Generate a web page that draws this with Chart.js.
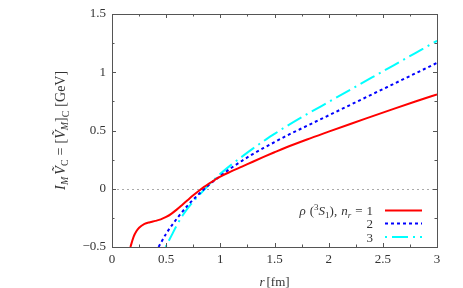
<!DOCTYPE html>
<html><head><meta charset="utf-8">
<script src="https://cdn.jsdelivr.net/npm/chart.js@4"></script>
<style>html,body{margin:0;padding:0;background:#fff}</style>
</head><body>
<canvas id="c" width="463" height="288"></canvas>
<script>
// ---- data ----
const rRed  = [0.17, 0.2, 0.225, 0.25, 0.3, 0.35, 0.4, 0.45, 0.5, 0.55, 0.6, 0.65, 0.7, 0.75, 0.8, 0.85, 0.9, 0.95, 1.0, 1.1, 1.2, 1.3, 1.4, 1.5, 1.6, 1.8, 2.0, 2.2, 2.4, 2.6, 2.8, 3.0];
const vRed  = [-0.5, -0.41, -0.365, -0.335, -0.302, -0.287, -0.276, -0.263, -0.242, -0.213, -0.177, -0.137, -0.096, -0.056, -0.019, 0.016, 0.047, 0.077, 0.105, 0.149, 0.19, 0.232, 0.273, 0.313, 0.352, 0.423, 0.49, 0.556, 0.621, 0.686, 0.749, 0.81];
const rBlue = [0.43, 0.5, 0.6, 0.7, 0.8, 0.9, 1.0, 1.1, 1.2, 1.3, 1.4, 1.5, 1.6, 1.8, 2.0, 2.2, 2.4, 2.6, 2.8, 3.0];
const vBlue = [-0.5, -0.385, -0.255, -0.142, -0.047, 0.038, 0.11, 0.178, 0.24, 0.298, 0.35, 0.4, 0.45, 0.54, 0.63, 0.72, 0.81, 0.9, 0.99, 1.08];
const rCyan = [0.495, 0.55, 0.6, 0.65, 0.7, 0.75, 0.8, 0.9, 1.0, 1.1, 1.2, 1.3, 1.4, 1.5, 1.6, 1.8, 2.0, 2.2, 2.4, 2.6, 2.8, 3.0];
const vCyan = [-0.5, -0.4, -0.31, -0.232, -0.166, -0.11, -0.06, 0.04, 0.128, 0.205, 0.276, 0.344, 0.41, 0.471, 0.53, 0.64, 0.745, 0.85, 0.955, 1.06, 1.165, 1.27];
const xTicks = [0, 0.5, 1, 1.5, 2, 2.5, 3];
const yTicks = [-0.5, 0, 0.5, 1, 1.5];
const legendLabels = ['1', '2', '3'];

const SERIF = '"Liberation Serif", "DejaVu Serif", serif';
const TXT = '#333';
const colors = ['#ff0000', '#0000ff', '#00ffff'];
const dashes = [[], [3, 3], [2, 5, 16, 5]];

function pts(xs, ys) { return xs.map((x, i) => ({x: x, y: ys[i]})); }
function fmt(v) { const s = String(v); return v < 0 ? '\u2212' + s.slice(1) : s; }

// draw a sequence of styled text pieces
function rich(ctx, parts, x, y, align, base) {
  base = base || 13;
  let w = 0;
  const m = parts.map(p => {
    const size = p.size || base;
    ctx.font = (p.it ? 'italic ' : '') + size + 'px ' + SERIF;
    const pw = ctx.measureText(p.t).width;
    w += pw + (p.sp || 0);
    return {p, size, pw};
  });
  let cx = align === 'right' ? x - w : (align === 'center' ? x - w / 2 : x);
  ctx.textBaseline = 'alphabetic';
  ctx.textAlign = 'left';
  ctx.fillStyle = TXT;
  m.forEach(({p, size, pw}) => {
    ctx.font = (p.it ? 'italic ' : '') + size + 'px ' + SERIF;
    ctx.fillText(p.t, cx, y + (p.dy || 0));
    cx += pw + (p.sp || 0);
  });
}

const deco = {
  id: 'deco',
  beforeDatasetsDraw(chart) {
    const {ctx, chartArea: a, scales: {y}} = chart;
    ctx.save();
    ctx.strokeStyle = '#aaa';
    ctx.lineWidth = 1;
    ctx.setLineDash([2, 3]);
    const y0 = Math.round(y.getPixelForValue(0)) + 0.5;
    ctx.beginPath(); ctx.moveTo(a.left, y0); ctx.lineTo(a.right, y0); ctx.stroke();
    ctx.restore();
  },
  afterDraw(chart) {
    const {ctx, chartArea: a, scales: {x, y}} = chart;
    ctx.save();
    ctx.strokeStyle = '#555';
    ctx.lineWidth = 1;
    ctx.setLineDash([]);
    // ticks, inward on all four sides
    ctx.beginPath();
    for (let v = 0; v <= 3.0001; v += 0.25) {
      const px = Math.round(x.getPixelForValue(v)) + 0.5;
      const L = Math.abs(v * 2 - Math.round(v * 2)) < 1e-6 ? 4 : 2.5;
      ctx.moveTo(px, a.bottom); ctx.lineTo(px, a.bottom - L);
      ctx.moveTo(px, a.top); ctx.lineTo(px, a.top + L);
    }
    for (let v = -0.5; v <= 1.5001; v += 0.25) {
      const py = Math.round(y.getPixelForValue(v)) + 0.5;
      const L = Math.abs(v * 2 - Math.round(v * 2)) < 1e-6 ? 4 : 2.5;
      ctx.moveTo(a.left, py); ctx.lineTo(a.left + L, py);
      ctx.moveTo(a.right, py); ctx.lineTo(a.right - L, py);
    }
    ctx.stroke();
    // frame
    ctx.strokeRect(Math.round(a.left) + 0.5, Math.round(a.top) + 0.5, Math.round(a.right - a.left), Math.round(a.bottom - a.top));

    // x title
    const cxm = (a.left + a.right) / 2;
    rich(ctx, [{t: 'r', it: true, sp: 2}, {t: '[fm]'}], cxm, a.bottom + 39, 'center', 13);

    // y title (rotated)
    ctx.save();
    ctx.translate(a.left - 52, (a.top + a.bottom) / 2);
    ctx.rotate(-Math.PI / 2);
    rich(ctx, [
      {t: 'I', it: true, sp: 0.5}, {t: 'M', it: true, size: 10, dy: 2.5, sp: 2},
      {t: 'V\u0303', it: true}, {t: 'C', size: 10, dy: 2.5, sp: 4},
      {t: '=', sp: 4}, {t: '[', sp: 0}, {t: 'V\u0303', it: true}, {t: 'M', it: true, size: 10, dy: 2.5},
      {t: ']'}, {t: 'C', size: 10, dy: 4, sp: 4}, {t: '[GeV]'}
    ], 0, 5, 'center', 14);
    ctx.restore();

    // legend
    const lx0 = a.right - 52, lx1 = a.right - 15, tx = a.right - 64;
    const rows = [a.bottom - 36.5, a.bottom - 23.5, a.bottom - 10];
    legendLabels.forEach((lab, i) => {
      const ly = rows[i];
      if (i === 0) {
        rich(ctx, [{t: '\u03c1', it: true, sp: 4}, {t: '('}, {t: '3', size: 9, dy: -5.5}, {t: 'S', it: true},
          {t: '1', size: 9, dy: 2.5}, {t: '),', sp: 4}, {t: 'n', it: true}, {t: 'r', it: true, size: 9, dy: 2.5, sp: 4},
          {t: '=', sp: 4}, {t: '1'}], tx, ly + 4.5, 'right', 13);
      } else {
        rich(ctx, [{t: lab}], tx, ly + 4.5, 'right', 13);
      }
      ctx.strokeStyle = colors[i];
      ctx.lineWidth = 2;
      ctx.setLineDash(dashes[i]);
      ctx.beginPath(); ctx.moveTo(lx0, ly); ctx.lineTo(lx1, ly); ctx.stroke();
    });
    ctx.restore();
  }
};

const mk = (xs, ys, i) => ({
  data: pts(xs, ys), borderColor: colors[i], borderWidth: 2, borderDash: dashes[i],
  pointRadius: 0, showLine: true, fill: false, cubicInterpolationMode: 'monotone'
});

new Chart(document.getElementById('c'), {
  type: 'scatter',
  data: { datasets: [mk(rRed, vRed, 0), mk(rBlue, vBlue, 1), mk(rCyan, vCyan, 2)] },
  options: {
    responsive: false, animation: false, devicePixelRatio: 1,
    layout: { padding: { left: 0, top: 14, right: 26, bottom: 0 } },
    plugins: { legend: { display: false }, tooltip: { enabled: false } },
    scales: {
      x: {
        type: 'linear', min: 0, max: 3,
        afterFit: s => { s.height = 41; },
        afterBuildTicks: s => { s.ticks = xTicks.map(v => ({value: v})); },
        grid: { display: false, drawTicks: false }, border: { display: false },
        ticks: { padding: 5, color: TXT, font: { family: SERIF, size: 13 }, callback: v => fmt(v), maxRotation: 0 }
      },
      y: {
        type: 'linear', min: -0.5, max: 1.5,
        afterFit: s => { s.width = 112; },
        afterBuildTicks: s => { s.ticks = yTicks.map(v => ({value: v})); },
        grid: { display: false, drawTicks: false }, border: { display: false },
        ticks: { padding: 6, color: TXT, font: { family: SERIF, size: 13 }, callback: v => fmt(v) }
      }
    }
  },
  plugins: [deco]
});
</script>
</body></html>
